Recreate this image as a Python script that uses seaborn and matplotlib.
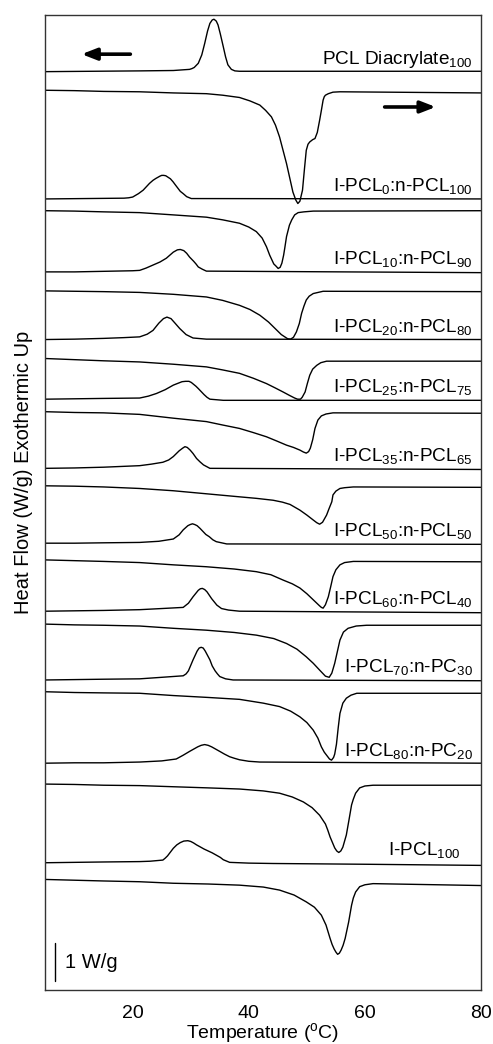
import matplotlib
matplotlib.use('Agg')
import matplotlib.pyplot as plt
import seaborn as sns

# DSC 曲线：每个样品一条降温曲线(放热峰)和一条升温曲线(吸热峰)，纵向错开
sns.set_style('white')
plt.rcParams['font.family'] = ['Liberation Sans', 'DejaVu Sans']
plt.rcParams['mathtext.default'] = 'regular'
plt.rcParams['text.color'] = 'black'
plt.rcParams['axes.labelcolor'] = 'black'
plt.rcParams['xtick.color'] = 'black'

# ========== 数据 (温度 °C, 相对热流 W/g) ==========
sample_labels = ['PCL Diacrylate$_{100}$', 'I-PCL$_0$:n-PCL$_{100}$', 'I-PCL$_{10}$:n-PCL$_{90}$',
                 'I-PCL$_{20}$:n-PCL$_{80}$', 'I-PCL$_{25}$:n-PCL$_{75}$', 'I-PCL$_{35}$:n-PCL$_{65}$',
                 'I-PCL$_{50}$:n-PCL$_{50}$', 'I-PCL$_{60}$:n-PCL$_{40}$', 'I-PCL$_{70}$:n-PC$_{30}$',
                 'I-PCL$_{80}$:n-PC$_{20}$', 'I-PCL$_{100}$']

# 曲线堆叠偏移 (W/g)
cool_offsets = [24.17, 20.82, 18.90, 17.12, 15.55, 13.73, 11.76, 9.97, 8.16, 5.97, 3.35]
heat_offsets = [23.68, 20.51, 18.40, 16.62, 15.22, 13.27, 11.32, 9.63, 7.85, 5.42, 2.91]

# PCL Diacrylate100
dia_cool_T = [5, 21.2, 27.0, 29.8, 30.2, 30.6, 31.3, 31.9, 32.4, 32.9, 33.3, 33.7, 34.0, 34.4, 34.7, 35.1, 35.6, 36.0, 36.4, 37.0, 37.6, 38.4, 80]
dia_cool_HF = [0, 0.02, 0.03, 0.06, 0.08, 0.11, 0.22, 0.44, 0.74, 1.07, 1.27, 1.36, 1.38, 1.33, 1.23, 0.99, 0.66, 0.39, 0.18, 0.06, 0.02, 0.01, 0.01]
dia_heat_T = [5, 10, 15, 21.2, 27, 32.7, 35.5, 38.4, 40.2, 41.9, 42.9, 43.9, 44.6, 45.3, 46.5, 47.6, 48.1, 48.45, 48.8, 49.25, 49.6, 49.9, 50.2, 50.5, 51.0, 51.4, 51.8, 52.2, 52.5, 52.8, 53.0, 53.2, 53.7, 54.5, 55.7, 80]
dia_heat_HF = [0, -0.01, -0.03, -0.04, -0.07, -0.09, -0.13, -0.19, -0.28, -0.39, -0.53, -0.70, -0.92, -1.23, -1.93, -2.68, -2.89, -2.98, -2.92, -2.63, -2.05, -1.58, -1.42, -1.36, -1.30, -1.27, -1.11, -0.79, -0.53, -0.26, -0.17, -0.13, -0.09, -0.05, -0.04, -0.07]

# I-PCL0:n-PCL100
p0_cool_T = [5, 18.5, 19.3, 20.0, 21.0, 21.8, 22.9, 23.5, 24.0, 24.7, 25.0, 25.35, 25.7, 26.0, 26.5, 26.96, 27.4, 27.8, 28.2, 28.7, 29.3, 30.1, 80]
p0_cool_HF = [0, 0.02, 0.03, 0.05, 0.14, 0.23, 0.41, 0.49, 0.54, 0.60, 0.62, 0.62, 0.61, 0.58, 0.53, 0.45, 0.36, 0.28, 0.20, 0.14, 0.06, 0.01, 0]
p0_heat_T = [5, 10, 15, 21.2, 27, 32.7, 35.5, 38.4, 40.0, 41.3, 42.3, 43.05, 43.6, 44.3, 44.7, 45.06, 45.4, 45.7, 46.0, 46.2, 46.5, 47.0, 47.4, 47.9, 48.5, 49.5, 51.1, 80]
p0_heat_HF = [0, -0.01, -0.03, -0.05, -0.11, -0.17, -0.24, -0.33, -0.43, -0.55, -0.72, -0.95, -1.17, -1.40, -1.46, -1.52, -1.49, -1.38, -1.17, -0.98, -0.68, -0.38, -0.24, -0.11, -0.05, -0.03, -0.01, 0]

# I-PCL10:n-PCL90
p10_cool_T = [5, 10, 20.0, 21.2, 22.3, 23.5, 24.7, 25.8, 26.4, 27.0, 27.7, 28.2, 28.8, 29.3, 29.8, 30.5, 30.9, 31.3, 32.0, 32.7, 80]
p10_cool_HF = [0, 0, 0.03, 0.04, 0.10, 0.18, 0.26, 0.36, 0.44, 0.52, 0.58, 0.59, 0.56, 0.49, 0.39, 0.28, 0.21, 0.13, 0.07, 0.02, -0.02]
p10_heat_T = [5, 10, 15, 21.2, 27, 32.7, 35.5, 38.4, 40.2, 41.9, 43.4, 44.8, 45.6, 46.2, 46.7, 47.2, 47.7, 48.2, 48.7, 49.1, 49.5, 49.9, 50.4, 51.1, 52.8, 80]
p10_heat_HF = [0, -0.01, -0.02, -0.04, -0.09, -0.16, -0.25, -0.38, -0.49, -0.64, -0.82, -1.03, -1.15, -1.21, -1.26, -1.27, -1.22, -1.08, -0.86, -0.59, -0.40, -0.24, -0.14, -0.07, -0.01, -0.02]

# I-PCL20:n-PCL80
p20_cool_T = [5, 10, 15, 18.5, 21.2, 22.5, 23.5, 24.5, 25.3, 25.9, 26.6, 27.3, 28.1, 29.2, 30.4, 32.7, 80]
p20_cool_HF = [0, 0.01, 0.03, 0.05, 0.07, 0.14, 0.24, 0.43, 0.55, 0.59, 0.55, 0.43, 0.29, 0.13, 0.04, 0.01, 0]
p20_heat_T = [5, 10, 15, 21.2, 27, 32.7, 35.5, 38.4, 40.8, 43.05, 44.5, 45.9, 47.0, 47.9, 48.4, 48.9, 49.2, 49.7, 50.1, 50.5, 51.0, 51.7, 52.4, 53.4, 80]
p20_heat_HF = [0, -0.03, -0.06, -0.09, -0.15, -0.22, -0.30, -0.39, -0.52, -0.66, -0.77, -0.88, -0.97, -1.04, -1.07, -1.07, -1.02, -0.88, -0.65, -0.44, -0.28, -0.18, -0.11, -0.07, -0.07]

# I-PCL25:n-PCL75
p25_cool_T = [5, 10, 15, 21.2, 22.7, 24.1, 25.6, 27.0, 28.5, 29.1, 29.7, 30.1, 30.5, 30.9, 31.3, 31.8, 32.3, 32.8, 33.3, 35.6, 80]
p25_cool_HF = [0, 0.01, 0.02, 0.03, 0.08, 0.15, 0.25, 0.37, 0.46, 0.47, 0.47, 0.44, 0.39, 0.34, 0.28, 0.20, 0.12, 0.05, 0, -0.03, -0.03]
p25_heat_T = [5, 10, 15, 21.2, 27, 32.7, 35.5, 38.4, 40.8, 43.05, 44.8, 46.5, 47.7, 48.8, 49.4, 49.9, 50.3, 50.6, 51.0, 51.4, 51.9, 52.5, 53.3, 54.5, 80]
p25_heat_HF = [0, -0.02, -0.03, -0.07, -0.17, -0.26, -0.35, -0.44, -0.55, -0.66, -0.77, -0.88, -0.94, -1.01, -1.06, -1.09, -1.05, -0.96, -0.74, -0.44, -0.22, -0.11, -0.06, -0.03, -0.04]

# I-PCL35:n-PCL65
p35_cool_T = [5, 10, 15, 21.2, 23.2, 25.2, 26.2, 27.0, 28.0, 28.6, 29.0, 29.4, 29.9, 30.4, 31.0, 31.6, 32.2, 33.3, 80]
p35_cool_HF = [0, 0.01, 0.03, 0.07, 0.11, 0.16, 0.22, 0.31, 0.46, 0.53, 0.57, 0.55, 0.48, 0.39, 0.26, 0.17, 0.09, 0, -0.03]
p35_heat_T = [5, 10, 15, 21.2, 27, 32.7, 38.4, 41.3, 44.2, 45.8, 47.1, 48.8, 50.0, 51.1, 51.7, 52.2, 52.7, 53.4, 53.8, 54.3, 54.5, 55.0, 55.7, 56.5, 58.0, 80]
p35_heat_HF = [0, -0.01, -0.03, -0.07, -0.13, -0.21, -0.29, -0.33, -0.38, -0.43, -0.49, -0.64, -0.77, -0.90, -0.97, -1.01, -0.96, -0.77, -0.61, -0.42, -0.24, -0.14, -0.07, -0.05, -0.03, -0.04]

# I-PCL50:n-PCL50
p50_cool_T = [5, 10, 15, 21.2, 24.5, 27.0, 28.0, 28.7, 29.5, 29.9, 30.3, 30.7, 31.1, 31.6, 32.1, 32.6, 33.2, 33.8, 34.4, 36.2, 80]
p50_cool_HF = [0, 0, 0.01, 0.02, 0.05, 0.11, 0.22, 0.35, 0.46, 0.49, 0.51, 0.49, 0.46, 0.39, 0.31, 0.23, 0.17, 0.09, 0.04, -0.02, -0.03]
p50_heat_T = [5, 10, 15, 21.2, 27, 32.7, 37.5, 41.3, 43.8, 45.9, 47.5, 48.8, 50.0, 51.1, 52.2, 52.5, 52.8, 53.2, 53.7, 54.1, 54.5, 55.0, 55.7, 56.5, 58.0, 80]
p50_heat_HF = [0, -0.02, -0.04, -0.07, -0.13, -0.18, -0.24, -0.31, -0.39, -0.53, -0.63, -0.74, -0.89, -1.05, -1.21, -1.25, -1.27, -1.18, -0.97, -0.71, -0.44, -0.26, -0.13, -0.07, -0.04, -0.05]

# I-PCL60:n-PCL40
p60_cool_T = [5, 10, 15, 21.2, 25, 28.7, 29.6, 30.4, 31.3, 31.65, 32.0, 32.4, 32.8, 33.6, 34.5, 35.3, 36.5, 38.4, 80]
p60_cool_HF = [0, 0.01, 0.02, 0.04, 0.07, 0.10, 0.21, 0.38, 0.55, 0.59, 0.60, 0.57, 0.51, 0.33, 0.16, 0.07, 0.03, 0, -0.04]
p60_heat_T = [5, 10, 15, 21.2, 27, 32.7, 37.5, 41.3, 44.3, 46.5, 48.3, 49.9, 51.1, 52.2, 53.2, 53.85, 54.3, 54.8, 55.2, 55.7, 56.3, 57.1, 58.5, 60.3, 80]
p60_heat_HF = [0, -0.02, -0.03, -0.05, -0.11, -0.16, -0.22, -0.29, -0.38, -0.51, -0.66, -0.86, -1.03, -1.21, -1.37, -1.40, -1.29, -1.03, -0.76, -0.42, -0.21, -0.11, -0.05, -0.03, -0.03]

# I-PCL70:n-PC30
p70_cool_T = [5, 10, 15, 21.2, 25, 28.7, 29.2, 29.6, 30.4, 31.1, 31.45, 31.8, 32.15, 32.5, 33.3, 33.7, 34.2, 34.6, 35.0, 36.0, 37.3, 80]
p70_cool_HF = [0, 0.01, 0.02, 0.03, 0.07, 0.11, 0.16, 0.24, 0.53, 0.76, 0.84, 0.86, 0.84, 0.76, 0.53, 0.37, 0.24, 0.16, 0.09, 0.03, 0, -0.02]
p70_heat_T = [5, 10, 15, 21.2, 27, 33, 38.4, 42.5, 45.3, 47.2, 48.8, 50.0, 51.1, 51.9, 52.5, 53.0, 53.5, 53.9, 54.25, 54.6, 54.8, 55.1, 55.4, 55.7, 56.2, 56.8, 57.6, 58.6, 80]
p70_heat_HF = [0, -0.02, -0.03, -0.04, -0.10, -0.15, -0.20, -0.30, -0.39, -0.51, -0.66, -0.81, -1.01, -1.22, -1.45, -1.59, -1.69, -1.77, -1.80, -1.73, -1.64, -1.38, -0.95, -0.57, -0.30, -0.17, -0.09, -0.04, -0.04]

# I-PCL80:n-PC20
p80_cool_T = [5, 10, 15, 21.2, 25, 27.5, 28.7, 29.8, 31.2, 31.8, 32.4, 33.0, 33.6, 34.3, 35.0, 35.8, 36.7, 37.5, 38.4, 40, 41.9, 80]
p80_cool_HF = [0, 0.01, 0.01, 0.03, 0.06, 0.11, 0.21, 0.31, 0.43, 0.47, 0.49, 0.47, 0.43, 0.37, 0.31, 0.24, 0.17, 0.13, 0.09, 0.05, 0.03, 0]
p80_heat_T = [5, 10, 15, 21.2, 27, 33, 38.4, 42.5, 45.3, 47.5, 49.4, 50.9, 52.2, 53.2, 53.6, 54.0, 54.8, 55.15, 55.5, 55.85, 56.2, 56.8, 57.25, 57.7, 58.0, 58.4, 59.1, 60, 61.4, 80]
p80_heat_HF = [0, -0.01, -0.03, -0.04, -0.07, -0.10, -0.13, -0.18, -0.24, -0.34, -0.47, -0.62, -0.82, -1.05, -1.21, -1.39, -1.68, -1.76, -1.80, -1.76, -1.66, -1.34, -0.95, -0.55, -0.40, -0.24, -0.10, -0.05, -0.03, -0.03]

# I-PCL100
p100_cool_T = [5, 10, 15, 21.2, 23, 25.2, 25.6, 26.0, 26.5, 27.0, 27.6, 28.2, 28.8, 29.5, 30.0, 30.5, 31.0, 31.6, 32.3, 33.0, 33.7, 34.4, 35.1, 35.6, 36.7, 40, 44.2, 60, 80]
p100_cool_HF = [0, 0.01, 0.02, 0.03, 0.04, 0.07, 0.12, 0.18, 0.28, 0.38, 0.47, 0.53, 0.57, 0.58, 0.56, 0.52, 0.47, 0.42, 0.36, 0.31, 0.26, 0.20, 0.14, 0.08, 0.01, -0.01, -0.02, -0.04, -0.07]
p100_heat_T = [5, 10, 15, 21.2, 27, 33, 38.4, 42.5, 45.3, 47.8, 49.9, 51.3, 52.5, 53.3, 54.0, 54.35, 54.7, 55.0, 55.3, 55.6, 55.9, 56.25, 56.6, 57.2, 57.7, 58.0, 58.4, 59.1, 60, 61.4, 80]
p100_heat_HF = [0, -0.02, -0.04, -0.06, -0.10, -0.12, -0.15, -0.20, -0.28, -0.41, -0.59, -0.73, -0.94, -1.20, -1.55, -1.71, -1.83, -1.91, -1.97, -1.94, -1.86, -1.73, -1.55, -1.12, -0.68, -0.49, -0.33, -0.19, -0.14, -0.11, -0.16]

cool_curves = [(dia_cool_T, dia_cool_HF), (p0_cool_T, p0_cool_HF), (p10_cool_T, p10_cool_HF),
               (p20_cool_T, p20_cool_HF), (p25_cool_T, p25_cool_HF), (p35_cool_T, p35_cool_HF),
               (p50_cool_T, p50_cool_HF), (p60_cool_T, p60_cool_HF), (p70_cool_T, p70_cool_HF),
               (p80_cool_T, p80_cool_HF), (p100_cool_T, p100_cool_HF)]
heat_curves = [(dia_heat_T, dia_heat_HF), (p0_heat_T, p0_heat_HF), (p10_heat_T, p10_heat_HF),
               (p20_heat_T, p20_heat_HF), (p25_heat_T, p25_heat_HF), (p35_heat_T, p35_heat_HF),
               (p50_heat_T, p50_heat_HF), (p60_heat_T, p60_heat_HF), (p70_heat_T, p70_heat_HF),
               (p80_heat_T, p80_heat_HF), (p100_heat_T, p100_heat_HF)]

# ========== 绘图 ==========
fig = plt.figure(figsize=(4.93, 10.44), dpi=100)
ax = fig.add_axes([0.0913, 0.0517, 0.8844, 0.9339])

for i in range(len(sample_labels)):
    t, hf = cool_curves[i]
    sns.lineplot(x=t, y=[v + cool_offsets[i] for v in hf], ax=ax, color='black', lw=1.0)
    t, hf = heat_curves[i]
    sns.lineplot(x=t, y=[v + heat_offsets[i] for v in hf], ax=ax, color='black', lw=1.0)
    # 样品名标注在降温曲线上方
    lx = 76.5 if i == len(sample_labels) - 1 else 78.6
    ax.text(lx, cool_offsets[i] + 0.2, sample_labels[i], ha='right', va='baseline', fontsize=13.7)

# 降温/升温方向箭头
ax.annotate('', xy=(11.2, 24.63), xytext=(19.6, 24.63),
            arrowprops=dict(arrowstyle='-|>,head_length=0.9,head_width=0.35', lw=2.6, color='black',
                            shrinkA=0, shrinkB=0))
ax.annotate('', xy=(72.2, 23.24), xytext=(63.4, 23.24),
            arrowprops=dict(arrowstyle='-|>,head_length=0.9,head_width=0.35', lw=2.6, color='black',
                            shrinkA=0, shrinkB=0))

# 标尺 1 W/g
ax.plot([6.7, 6.7], [0.25, 1.25], color='black', lw=1.0)
ax.text(8.4, 0.72, '1 W/g', ha='left', va='center', fontsize=14.5)

ax.set_xlim(4.9, 80)
ax.set_ylim(0, 25.66)
ax.set_yticks([])
ax.set_xticks([20, 40, 60, 80])
ax.tick_params(axis='x', direction='inout', length=6, width=1, labelsize=14, pad=8, color='#333333')
for s in ax.spines.values():
    s.set_linewidth(1.0)
    s.set_color('#333333')

ax.set_xlabel('Temperature ($^{o}$C)', fontsize=14, labelpad=-1)
ax.set_ylabel('Heat Flow (W/g) Exothermic Up', fontsize=14.5)
ax.yaxis.set_label_coords(-0.027, 0.531)

fig.savefig('out.png', dpi=100)
